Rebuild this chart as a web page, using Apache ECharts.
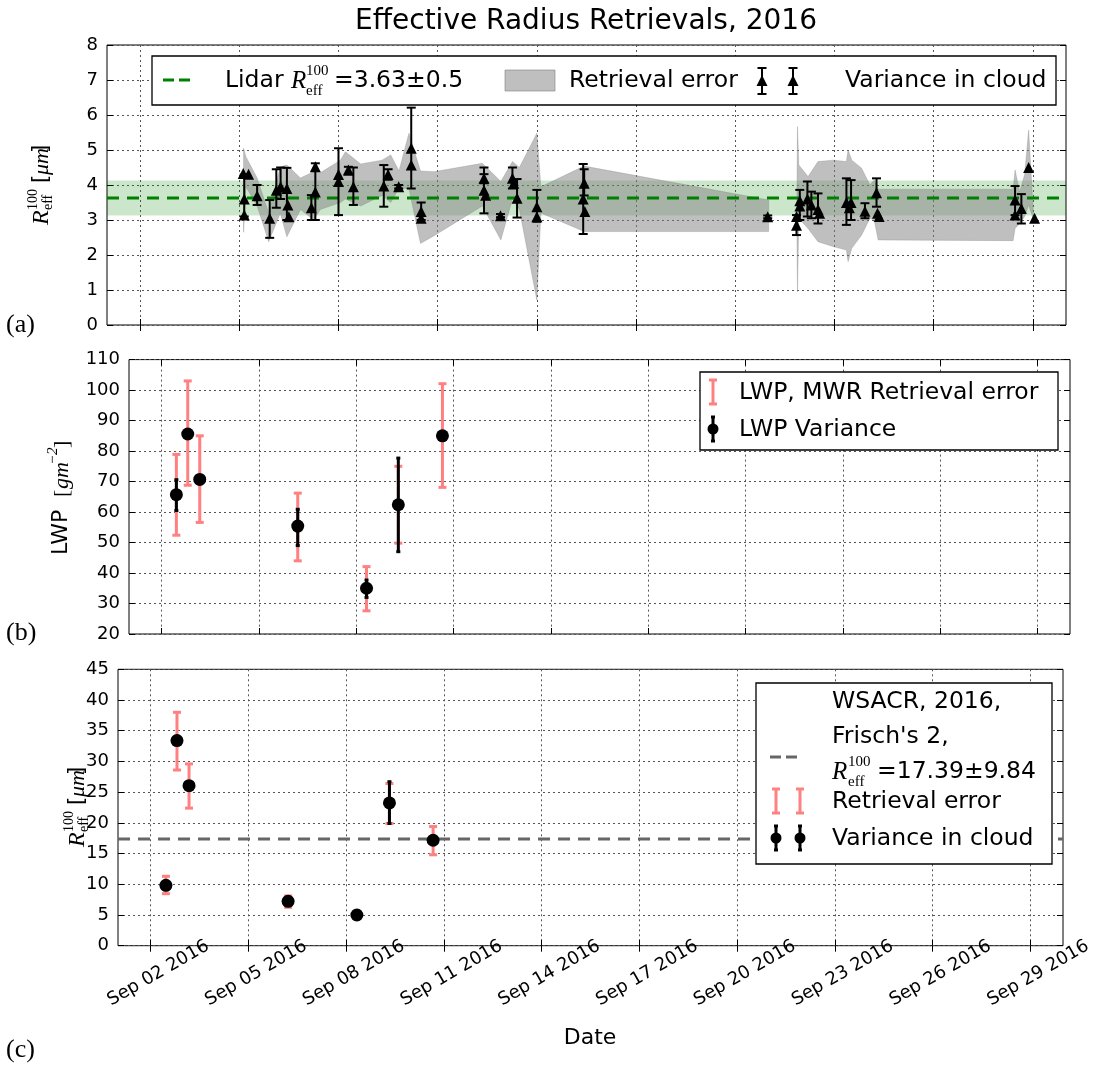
<!DOCTYPE html>
<html><head><meta charset="utf-8">
<script src="https://cdn.jsdelivr.net/npm/echarts@6.0.0/dist/echarts.min.js"></script>
<style>html,body{margin:0;padding:0;background:#fff}#c{width:1095px;height:1068px}</style>
</head><body><div id="c"></div>
<script>
// ---------- shared x ticks (day of September 2016) ----------
const xTickDays = [2, 5, 8, 11, 14, 17, 20, 23, 26, 29];
const xTickLabels = ['Sep 02 2016','Sep 05 2016','Sep 08 2016','Sep 11 2016','Sep 14 2016','Sep 17 2016','Sep 20 2016','Sep 23 2016','Sep 26 2016','Sep 29 2016'];

// ---------- panel (a): effective radius retrievals ----------
const lidarMean = 3.63;
const lidarStd = 0.5;
const aDay  = [5.12,5.28,5.15,5.15,5.54,5.92,6.12,6.25,6.44,6.47,6.50,7.18,7.30,7.30,8.00,8.00,8.30,8.45,9.37,9.50,9.82,10.20,10.20,10.50,10.50,12.40,12.40,12.45,12.90,13.26,13.30,13.40,14.00,14.00,15.40,15.43,15.45,20.98,21.85,21.85,21.95,21.95,22.18,22.30,22.50,22.55,23.36,23.45,23.50,23.92,24.27,24.30,24.35,28.46,28.46,28.65,28.87,29.05];
const aVal  = [4.33,4.31,3.60,3.14,3.69,3.05,3.85,3.95,3.90,3.43,3.09,3.35,3.80,4.52,4.10,4.30,4.43,3.95,3.97,4.30,3.95,5.05,4.57,3.24,3.05,3.85,4.19,3.71,3.12,4.19,4.05,3.62,3.38,3.09,3.60,4.05,3.24,3.09,2.85,3.10,3.40,3.55,3.60,3.43,3.30,3.19,3.50,3.35,3.50,3.25,3.78,3.19,3.10,3.57,3.14,3.33,4.50,3.05];
const aLow  = [null,null,3.10,null,3.43,2.49,3.35,3.60,3.00,null,null,3.00,3.00,null,3.14,null,4.30,3.43,3.38,4.15,3.90,3.90,null,3.00,null,3.19,4.05,null,3.08,3.90,null,3.07,2.95,null,2.60,3.70,null,3.05,2.57,null,3.00,null,3.10,3.05,2.90,null,2.86,null,3.00,3.05,3.38,null,null,3.14,null,2.90,null,null];
const aHigh = [null,null,4.30,null,4.00,3.57,4.45,4.50,4.49,null,null,3.71,4.62,null,5.05,null,4.52,4.50,4.57,4.45,4.00,6.21,null,3.50,null,4.50,4.31,null,3.17,4.50,null,4.17,3.86,null,4.60,4.45,null,3.13,3.14,null,3.86,null,4.10,3.81,3.76,null,4.19,null,4.14,3.48,4.19,null,null,3.97,null,3.74,null,null];
// retrieval-error band, two separate stretches
const band1Day  = [5.13,5.20,5.54,5.89,6.24,6.44,6.85,7.25,7.45,8.06,8.21,8.67,9.32,9.58,9.83,10.13,10.48,10.89,12.35,12.91,13.26,13.47,14.00,14.12,15.43,21.01];
const band1Low  = [2.65,3.95,3.40,2.38,3.20,2.52,3.30,3.00,3.30,3.50,3.60,3.40,3.70,3.50,3.90,3.90,2.33,2.55,3.40,2.43,3.60,3.30,0.71,3.20,2.67,2.67];
const band1High = [5.05,4.81,4.20,3.20,4.52,4.57,4.20,4.38,4.35,4.71,4.95,4.60,4.71,4.86,4.40,5.48,4.40,4.38,4.62,4.10,4.67,4.50,5.48,3.95,4.54,3.57];
const band2Day  = [21.86,21.88,21.92,22.20,22.50,22.96,23.36,23.41,23.52,23.82,24.07,24.20,24.32,28.40,28.46,28.60,28.75,28.87,29.02];
const band2Low  = [3.00,0.95,3.05,2.76,2.38,2.24,2.14,1.81,2.19,2.57,3.05,3.00,2.43,2.41,2.76,2.90,3.10,3.43,3.00];
const band2High = [3.40,5.67,4.57,4.24,4.67,4.71,4.67,5.00,4.71,4.48,4.00,4.14,3.88,3.88,4.43,3.80,4.30,5.57,3.10];

// ---------- panel (b): LWP ----------
const lwpDay     = [2.46, 2.81, 3.18, 6.20, 8.32, 9.30, 10.66];
const lwpVal     = [65.7, 85.6, 70.7, 55.4, 35.0, 62.4, 85.0];
const lwpRetLow  = [52.4, 68.8, 56.6, 44.0, 27.6, 49.8, 68.1];
const lwpRetHigh = [78.9, 103.0, 85.0, 66.2, 42.1, 75.0, 102.1];
const lwpVarLow  = [60.5, 85.0, 70.2, 49.0, 32.0, 47.0, 84.5];
const lwpVarHigh = [70.6, 86.2, 71.2, 60.9, 37.7, 77.7, 85.5];

// ---------- panel (c): WSACR effective radius ----------
const wsacrMean = 17.39;
const wsacrStd = 9.84;
const reDay     = [2.47, 2.81, 3.18, 6.22, 8.33, 9.33, 10.67];
const reVal     = [9.83, 33.4, 26.06, 7.23, 5.0, 23.24, 17.17];
const reRetLow  = [8.47, 28.6, 22.4, 6.25, 4.4, 19.9, 14.8];
const reRetHigh = [11.3, 38.0, 29.6, 8.1, 5.6, 26.4, 19.4];
const reVarLow  = [9.5, 33.0, 25.7, 6.9, 4.8, 19.9, 16.9];
const reVarHigh = [10.2, 33.8, 26.4, 7.5, 5.2, 26.7, 17.4];

// ================= build =================
const SANS = 'DejaVu Sans';
const SERIF = 'Liberation Serif';
const chart = echarts.init(document.getElementById('c'), null, {renderer: 'canvas'});

const grids = [
  {left: 107, top: 45, width: 959, height: 280},
  {left: 129, top: 359.6, width: 941, height: 274.4},
  {left: 118, top: 669.3, width: 945, height: 276.4}
].map(g => Object.assign({show: true, borderColor: '#000', borderWidth: 1, backgroundColor: 'transparent', containLabel: false}, g));

const gridLine = {show: true, lineStyle: {type: [2, 3], color: '#555', width: 1}};

function xAxes(gi, showLabels) {
  const base = {type: 'value', gridIndex: gi, min: 1, max: 30, axisLine: {show: false}};
  return [
    Object.assign({}, base, {position: 'bottom',
      axisTick: {show: true, inside: true, length: 6, customValues: xTickDays, lineStyle: {color: '#000'}},
      axisLabel: {show: showLabels, customValues: xTickDays, rotate: 30, align: 'center', verticalAlign: 'middle', margin: 32,
        padding: [0, 0, 0, 18],
        fontSize: 18, fontFamily: SANS, color: '#000',
        formatter: v => { const i = xTickDays.indexOf(Math.round(v)); return i >= 0 ? xTickLabels[i] : ''; }},
      splitLine: Object.assign({}, gridLine)}),
    Object.assign({}, base, {position: 'top',
      axisTick: {show: true, inside: true, length: 6, customValues: xTickDays, lineStyle: {color: '#000'}},
      axisLabel: {show: false}, splitLine: {show: false}})
  ];
}
function yAxes(gi, min, max, interval) {
  const base = {type: 'value', gridIndex: gi, min, max, interval, axisLine: {show: false}};
  return [
    Object.assign({}, base, {position: 'left',
      axisTick: {show: true, inside: true, length: 6, lineStyle: {color: '#000'}},
      axisLabel: {show: true, margin: 9, fontSize: 18, fontFamily: SANS, color: '#000'},
      splitLine: Object.assign({}, gridLine)}),
    Object.assign({}, base, {position: 'right',
      axisTick: {show: true, inside: true, length: 6, lineStyle: {color: '#000'}},
      axisLabel: {show: false}, splitLine: {show: false}})
  ];
}

function errSeries(xi, yi, days, lows, highs, color, width, cap, z) {
  const data = [];
  days.forEach((d, i) => { if (lows[i] != null && highs[i] != null) data.push([d, lows[i], highs[i]]); });
  return {type: 'custom', xAxisIndex: xi, yAxisIndex: yi, z, silent: true, data, encode: {x: 0, y: [1, 2]},
    renderItem: (p, api) => {
      const x = api.value(0);
      const a = api.coord([x, api.value(2)]), b = api.coord([x, api.value(1)]);
      const st = {stroke: color, lineWidth: width};
      return {type: 'group', children: [
        {type: 'line', shape: {x1: a[0], y1: a[1], x2: b[0], y2: b[1]}, style: st},
        {type: 'line', shape: {x1: a[0] - cap, y1: a[1], x2: a[0] + cap, y2: a[1]}, style: st},
        {type: 'line', shape: {x1: b[0] - cap, y1: b[1], x2: b[0] + cap, y2: b[1]}, style: st}
      ]};
    }};
}

const bandSegments = [
  {day: band1Day, low: band1Low, high: band1High},
  {day: band2Day, low: band2Low, high: band2High}
];

const series = [
  // green lidar band
  {type: 'custom', xAxisIndex: 0, yAxisIndex: 0, z: 1, silent: true,
   data: [[1, lidarMean - lidarStd, 30, lidarMean + lidarStd]],
   renderItem: (p, api) => {
     const a = api.coord([api.value(0), api.value(3)]), b = api.coord([api.value(2), api.value(1)]);
     return {type: 'rect', shape: {x: a[0], y: a[1], width: b[0] - a[0], height: b[1] - a[1]}, style: {fill: 'rgba(0,128,0,0.2)'}};
   }},
  // gray retrieval error band
  {type: 'custom', xAxisIndex: 0, yAxisIndex: 0, z: 2, silent: true,
   data: bandSegments.map(s => [s.day[0], s.low[0]]),
   renderItem: (p, api) => {
     const s = bandSegments[p.dataIndex];
     const pts = [];
     for (let i = 0; i < s.day.length; i++) pts.push(api.coord([s.day[i], s.high[i]]));
     for (let i = s.day.length - 1; i >= 0; i--) pts.push(api.coord([s.day[i], s.low[i]]));
     return {type: 'polygon', shape: {points: pts}, style: {fill: 'rgba(128,128,128,0.5)', stroke: 'rgba(128,128,128,0.5)', lineWidth: 0.6}};
   }},
  // lidar mean line
  {type: 'line', xAxisIndex: 0, yAxisIndex: 0, z: 3, silent: true, symbol: 'none',
   data: [[1, lidarMean], [30, lidarMean]], lineStyle: {color: '#008000', width: 3, type: [12, 8]}},
  errSeries(0, 0, aDay, aLow, aHigh, '#000', 2, 4.5, 4),
  {type: 'scatter', xAxisIndex: 0, yAxisIndex: 0, z: 5, silent: true, symbol: 'triangle', symbolSize: 11,
   data: aDay.map((d, i) => [d, aVal[i]]), itemStyle: {color: '#000', opacity: 1}},

  // panel b
  errSeries(2, 2, lwpDay, lwpRetLow, lwpRetHigh, '#ff8080', 3, 4, 3),
  errSeries(2, 2, lwpDay, lwpVarLow, lwpVarHigh, '#000', 3, 2, 4),
  {type: 'scatter', xAxisIndex: 2, yAxisIndex: 2, z: 5, silent: true, symbol: 'circle', symbolSize: 13,
   data: lwpDay.map((d, i) => [d, lwpVal[i]]), itemStyle: {color: '#000', opacity: 1}},

  // panel c
  {type: 'line', xAxisIndex: 4, yAxisIndex: 4, z: 2, silent: true, symbol: 'none',
   data: [[1, wsacrMean], [30, wsacrMean]], lineStyle: {color: '#666', width: 3, type: [12, 8]}},
  errSeries(4, 4, reDay, reRetLow, reRetHigh, '#ff8080', 3, 4, 3),
  errSeries(4, 4, reDay, reVarLow, reVarHigh, '#000', 3, 2, 4),
  {type: 'scatter', xAxisIndex: 4, yAxisIndex: 4, z: 5, silent: true, symbol: 'circle', symbolSize: 13,
   data: reDay.map((d, i) => [d, reVal[i]]), itemStyle: {color: '#000', opacity: 1}}
];

// ---------- graphic helpers (text, legends) ----------
function txt(x, y, text, size, opts) {
  return Object.assign({type: 'text', x, y, z: 100, silent: true,
    style: Object.assign({text, fontSize: size, fontFamily: SANS, fill: '#000', align: 'left', verticalAlign: 'middle'}, (opts && opts.style) || {})},
    opts && opts.el || {});
}
function stxt(x, y, text, size, italic, extra) {
  return {type: 'text', x, y, z: 100, silent: true,
    style: Object.assign({text, fontSize: size, fontFamily: SERIF, fontStyle: italic ? 'italic' : 'normal', fill: '#000', align: 'left', verticalAlign: 'middle'}, extra || {})};
}
function line(x1, y1, x2, y2, color, w, dash) {
  return {type: 'line', z: 100, silent: true, shape: {x1, y1, x2, y2}, style: {stroke: color, lineWidth: w, lineDash: dash || null}};
}
function errIcon(x, yc, half, color, w, cap) {
  return [line(x, yc - half, x, yc + half, color, w), line(x - cap, yc - half, x + cap, yc - half, color, w), line(x - cap, yc + half, x + cap, yc + half, color, w)];
}
function tri(x, y, s) {
  return {type: 'polygon', z: 101, silent: true, shape: {points: [[x, y - s * 0.55], [x - s / 2, y + s * 0.45], [x + s / 2, y + s * 0.45]]}, style: {fill: '#000'}};
}
function dot(x, y, r) {
  return {type: 'circle', z: 101, silent: true, shape: {cx: x, cy: y, r}, style: {fill: '#000'}};
}
function box(x, y, w, h) {
  return {type: 'rect', z: 99, silent: true, shape: {x, y, width: w, height: h}, style: {fill: '#fff', stroke: '#000', lineWidth: 1.3}};
}

const LF = 23.5; // legend font
const graphics = [
  // title
  txt(586, 22, 'Effective Radius Retrievals, 2016', 28, {style: {align: 'center'}}),
  // panel letters
  stxt(6, 325, '(a)', 26, false), stxt(6, 633, '(b)', 26, false), stxt(6, 1050, '(c)', 26, false),
  // x label
  txt(590, 1038, 'Date', 22, {style: {align: 'center'}}),

  // y label (a)
  {type: 'group', x: 40, y: 186, rotation: Math.PI / 2, children: [
    stxt(-39, 2, 'R', 24, true), stxt(-24, -7, '100', 14, false), stxt(-24, 8, 'eff', 14, false),
    txt(3, 2, '[', 21), stxt(11, 2, 'μm', 22, true), txt(33, 2, ']', 21)
  ]},
  // y label (b)
  {type: 'group', x: 61, y: 497, rotation: Math.PI / 2, children: [
    txt(-58, 0, 'LWP', 22), stxt(0, 1, '[', 22, false), stxt(8, 1, 'gm', 22, true), stxt(32, -8, '−2', 15, true), stxt(49, 1, ']', 22, false)
  ]},
  // y label (c)
  {type: 'group', x: 76, y: 808, rotation: Math.PI / 2, children: [
    stxt(-39, 2, 'R', 24, true), stxt(-24, -7, '100', 14, false), stxt(-24, 8, 'eff', 14, false),
    txt(3, 2, '[', 21), stxt(11, 2, 'μm', 22, true), txt(33, 2, ']', 21)
  ]},

  // legend (a)
  box(152, 56, 904, 49),
  line(163, 80, 193, 80, '#008000', 3, [11, 5]),
  txt(225, 81, 'Lidar', LF), stxt(291, 81, 'R', 25, true), stxt(306, 71, '100', 15, false), stxt(306, 91, 'eff', 15, false),
  txt(334, 81, '=3.63±0.5', LF),
  {type: 'rect', z: 100, silent: true, shape: {x: 505, y: 70, width: 50, height: 21}, style: {fill: 'rgba(128,128,128,0.5)', stroke: 'rgba(128,128,128,0.6)', lineWidth: 1}},
  txt(569, 81, 'Retrieval error', LF),
  ...errIcon(762, 81, 13, '#000', 2, 4.5), tri(762, 81, 11),
  ...errIcon(793, 81, 13, '#000', 2, 4.5), tri(793, 81, 11),
  txt(845, 81, 'Variance in cloud', LF),

  // legend (b)
  box(700, 372, 358, 78),
  ...errIcon(713, 392, 12, '#ff8080', 3, 4),
  txt(739, 393, 'LWP, MWR Retrieval error', LF),
  ...errIcon(713, 429, 12, '#000', 3, 2), dot(713, 429, 5.5),
  txt(739, 430, 'LWP Variance', LF),

  // legend (c)
  box(756, 683, 296, 181),
  line(770, 757, 802, 757, '#666', 3, [11, 5]),
  txt(832, 702, 'WSACR, 2016,', LF), txt(832, 737, "Frisch's 2,", LF),
  stxt(832, 772, 'R', 25, true), stxt(848, 762, '100', 15, false), stxt(848, 782, 'eff', 15, false),
  txt(877, 772, '=17.39±9.84', LF),
  ...errIcon(776, 801, 12, '#ff8080', 3, 4), ...errIcon(800, 801, 12, '#ff8080', 3, 4),
  txt(832, 802, 'Retrieval error', LF),
  ...errIcon(776, 838, 12, '#000', 3, 2), dot(776, 838, 5.5), ...errIcon(800, 838, 12, '#000', 3, 2), dot(800, 838, 5.5),
  txt(832, 839, 'Variance in cloud', LF)
];

chart.setOption({
  animation: false,
  backgroundColor: '#fff',
  textStyle: {fontFamily: SANS},
  grid: grids,
  xAxis: [...xAxes(0, false), ...xAxes(1, false), ...xAxes(2, true)],
  yAxis: [...yAxes(0, 0, 8, 1), ...yAxes(1, 20, 110, 10), ...yAxes(2, 0, 45, 5)],
  series,
  graphic: graphics
});
</script></body></html>
